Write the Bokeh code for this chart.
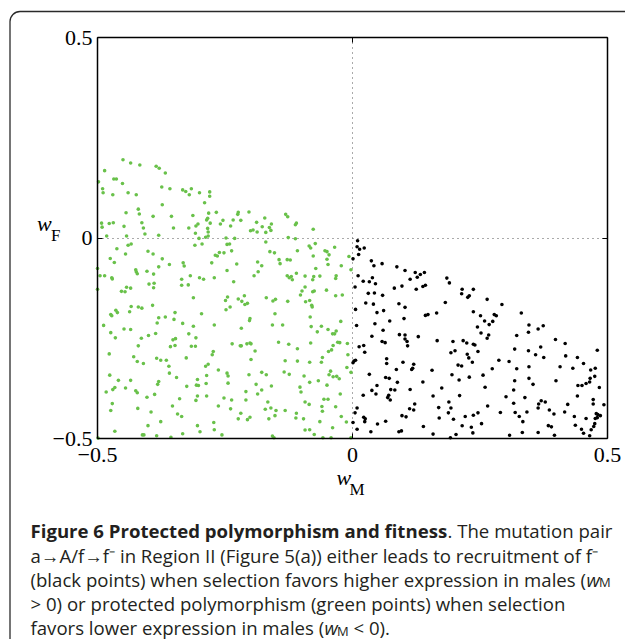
from bokeh.plotting import figure
from bokeh.models import (Range1d, FixedTicker, LinearAxis, CustomJSTickFormatter,
                          Label, BoxAnnotation, Grid)
from bokeh.embed import file_html
from bokeh.resources import INLINE

# ---------------- data ----------------
green_x = [-0.450,-0.435,-0.417,-0.385,-0.379,-0.486,-0.367,-0.498,-0.468,-0.463,-0.451,-0.490,-0.489,-0.470,-0.440,-0.424,-0.374,-0.358,-0.333,-0.327,-0.316,-0.320,-0.300,-0.280,-0.280,-0.373,-0.290,-0.420,-0.418,-0.444,-0.391,-0.355,-0.313,-0.282,-0.267,-0.492,-0.491,-0.477,-0.469,-0.413,-0.448,-0.410,-0.351,-0.321,-0.307,-0.303,-0.286,-0.284,-0.279,-0.254,-0.259,-0.284,-0.283,-0.283,-0.308,-0.482,-0.443,-0.407,-0.380,-0.301,-0.288,-0.440,-0.434,-0.462,-0.309,-0.295,-0.445,-0.401,-0.391,-0.373,-0.332,-0.330,-0.359,-0.276,-0.269,-0.265,-0.261,-0.252,-0.475,-0.467,-0.500,-0.425,-0.424,-0.422,-0.403,-0.390,-0.380,-0.495,-0.486,-0.472,-0.471,-0.335,-0.318,-0.300,-0.292,-0.271,-0.399,-0.389,-0.335,-0.322,-0.443,-0.435,-0.390,-0.453,-0.446,-0.500,
           -0.224,-0.225,-0.203,-0.131,-0.127,-0.234,-0.219,-0.239,-0.188,-0.172,-0.159,-0.177,-0.163,-0.160,-0.200,-0.195,-0.187,-0.170,-0.112,-0.110,-0.077,-0.248,-0.231,-0.126,-0.112,-0.170,-0.073,-0.246,-0.241,-0.237,-0.162,-0.153,-0.085,-0.082,-0.108,-0.054,-0.050,-0.035,-0.046,-0.077,-0.144,-0.128,-0.122,-0.142,-0.186,-0.178,-0.050,-0.048,-0.007,-0.022,-0.227,-0.246,-0.185,-0.072,-0.003,-0.110,-0.193,-0.128,-0.124,-0.120,-0.118,-0.093,-0.076,-0.078,-0.064,-0.032,-0.033,-0.233,-0.093,-0.099,-0.078,-0.075,-0.051,
           -0.312,-0.464,-0.461,-0.474,-0.472,-0.434,-0.420,-0.413,-0.392,-0.437,-0.348,-0.296,-0.380,-0.367,-0.350,-0.488,-0.448,-0.435,-0.383,-0.333,-0.312,-0.271,-0.474,-0.465,-0.414,-0.400,-0.386,-0.321,-0.307,-0.352,-0.347,-0.420,-0.357,-0.348,-0.316,-0.308,-0.273,-0.275,-0.477,-0.429,-0.384,-0.376,-0.365,-0.422,-0.410,-0.326,-0.360,-0.283,-0.288,-0.263,-0.359,-0.476,-0.345,-0.435,-0.459,-0.304,-0.286,-0.380,-0.382,-0.466,-0.470,-0.445,-0.325,-0.306,-0.302,-0.287,-0.483,-0.425,-0.422,-0.388,-0.403,-0.304,-0.286,-0.307,-0.339,-0.471,-0.353,-0.263,-0.474,-0.421,-0.395,-0.343,-0.335,-0.376,-0.272,-0.401,-0.304,-0.466,-0.412,-0.409,-0.384,-0.356,-0.333,-0.299,-0.271,-0.256,-0.499,
           -0.245,-0.212,-0.102,-0.033,-0.020,-0.249,-0.224,-0.217,-0.211,-0.206,-0.169,-0.156,-0.151,-0.127,-0.092,-0.084,-0.080,-0.079,-0.248,-0.240,-0.152,-0.083,-0.201,-0.202,-0.023,-0.157,-0.137,-0.081,-0.061,-0.048,-0.032,-0.069,-0.039,-0.035,-0.218,-0.236,-0.220,-0.218,-0.207,-0.201,-0.199,-0.145,-0.125,-0.082,-0.029,-0.025,-0.010,-0.038,-0.108,-0.041,-0.047,-0.191,-0.009,-0.059,-0.061,-0.084,-0.108,-0.132,-0.199,-0.003,-0.011,-0.043,-0.046,-0.038,-0.031,-0.026,-0.134,-0.124,-0.178,-0.169,-0.203,-0.246,-0.244,-0.095,-0.084,-0.067,-0.050,-0.244,-0.189,-0.159,-0.103,-0.101,-0.024,-0.186,-0.178,-0.209,-0.252,-0.237,-0.209,-0.056,-0.048,-0.166,-0.093,-0.085,-0.060,-0.033,-0.171,-0.160,-0.150,-0.132,-0.059,-0.239,-0.219,-0.110,-0.152,-0.111,-0.096,-0.164,-0.201,-0.206,-0.224,-0.022,-0.012,-0.064,-0.093,-0.084,-0.039,-0.075,-0.157,-0.154,-0.058,-0.042,-0.003]
green_y = [0.195,0.187,0.182,0.179,0.174,0.168,0.162,0.140,0.147,0.147,0.136,0.123,0.113,0.108,0.113,0.108,0.127,0.123,0.120,0.116,0.123,0.108,0.113,0.115,0.104,0.083,0.088,0.072,0.060,0.063,0.054,0.054,0.056,0.062,0.064,0.037,0.027,0.036,0.038,0.038,0.029,0.025,0.025,0.025,0.030,0.035,0.045,0.049,0.037,0.044,0.035,0.024,0.015,0.005,0.012,0.005,0.005,0.010,0.007,-0.001,0.002,-0.018,-0.015,-0.027,-0.018,-0.015,-0.040,-0.033,-0.040,-0.052,-0.062,-0.070,-0.066,-0.062,-0.043,-0.045,-0.036,-0.037,-0.051,-0.061,-0.076,-0.079,-0.084,-0.089,-0.083,-0.090,-0.072,-0.094,-0.094,-0.099,-0.102,-0.103,-0.094,-0.099,-0.103,-0.099,-0.115,-0.113,-0.118,-0.117,-0.123,-0.125,-0.124,-0.133,-0.134,-0.128,
           0.064,0.059,0.065,0.059,0.053,0.045,0.044,0.030,0.039,0.050,0.035,0.028,0.026,0.019,0.018,0.020,0.015,0.014,0.033,0.037,0.022,0.000,-0.001,0.001,-0.002,-0.010,-0.014,-0.016,-0.015,-0.032,-0.034,-0.037,-0.020,-0.025,-0.032,-0.032,-0.034,-0.023,-0.042,-0.045,-0.054,-0.054,-0.055,-0.064,-0.060,-0.069,-0.053,-0.066,-0.046,-0.069,-0.065,-0.081,-0.084,-0.076,-0.079,-0.088,-0.094,-0.094,-0.099,-0.096,-0.104,-0.095,-0.096,-0.104,-0.095,-0.094,-0.101,-0.109,-0.122,-0.132,-0.134,-0.132,-0.130,
           -0.149,-0.180,-0.186,-0.191,-0.194,-0.171,-0.172,-0.175,-0.168,-0.184,-0.186,-0.189,-0.199,-0.197,-0.203,-0.218,-0.227,-0.228,-0.212,-0.213,-0.220,-0.217,-0.236,-0.249,-0.250,-0.243,-0.238,-0.239,-0.249,-0.254,-0.251,-0.269,-0.271,-0.268,-0.270,-0.270,-0.283,-0.291,-0.289,-0.296,-0.300,-0.305,-0.305,-0.308,-0.313,-0.299,-0.320,-0.315,-0.320,-0.329,-0.337,-0.342,-0.348,-0.355,-0.355,-0.353,-0.343,-0.358,-0.365,-0.373,-0.378,-0.374,-0.370,-0.367,-0.368,-0.363,-0.384,-0.381,-0.386,-0.390,-0.397,-0.394,-0.394,-0.405,-0.401,-0.413,-0.419,-0.419,-0.430,-0.425,-0.434,-0.439,-0.445,-0.458,-0.460,-0.468,-0.468,-0.482,-0.491,-0.491,-0.493,-0.497,-0.488,-0.483,-0.478,-0.491,-0.499,
           -0.147,-0.144,-0.142,-0.144,-0.142,-0.156,-0.152,-0.158,-0.166,-0.163,-0.149,-0.157,-0.153,-0.158,-0.159,-0.156,-0.168,-0.172,-0.179,-0.172,-0.189,-0.197,-0.201,-0.206,-0.208,-0.217,-0.217,-0.221,-0.220,-0.228,-0.232,-0.234,-0.239,-0.239,-0.225,-0.264,-0.269,-0.269,-0.264,-0.262,-0.264,-0.260,-0.265,-0.262,-0.260,-0.261,-0.263,-0.268,-0.276,-0.279,-0.283,-0.282,-0.291,-0.298,-0.310,-0.310,-0.307,-0.306,-0.303,-0.335,-0.323,-0.332,-0.341,-0.346,-0.345,-0.351,-0.334,-0.340,-0.335,-0.341,-0.341,-0.337,-0.344,-0.344,-0.360,-0.356,-0.367,-0.362,-0.365,-0.369,-0.372,-0.384,-0.389,-0.389,-0.379,-0.383,-0.399,-0.404,-0.404,-0.402,-0.402,-0.409,-0.409,-0.415,-0.420,-0.421,-0.427,-0.424,-0.430,-0.430,-0.432,-0.426,-0.437,-0.437,-0.443,-0.449,-0.451,-0.451,-0.447,-0.453,-0.451,-0.445,-0.459,-0.458,-0.479,-0.478,-0.473,-0.490,-0.494,-0.498,-0.498,-0.498,-0.498]

black_x = [0.010,0.009,0.014,0.023,0.012,0.001,0.037,0.042,0.058,0.087,0.103,0.011,0.039,0.021,0.033,0.045,0.005,0.082,0.097,0.113,0.123,0.127,0.133,0.141,0.138,0.143,0.125,0.185,0.190,0.031,0.043,0.059,0.026,0.041,0.091,0.103,0.182,0.215,0.214,0.226,0.229,0.237,0.006,0.048,0.061,0.143,0.148,0.165,0.237,0.008,0.044,0.073,0.101,0.060,0.245,0.038,0.092,0.103,0.129,
           0.264,0.293,0.251,0.278,0.282,0.331,0.259,0.268,0.275,0.252,0.267,0.322,0.346,0.345,0.364,0.374,
           0.058,0.064,0.103,0.107,0.108,0.166,0.197,0.217,0.224,0.237,0.240,0.013,0.022,0.024,0.193,0.201,0.225,0.228,0.235,0.246,0.006,0.003,0.001,0.067,0.067,0.099,0.120,0.118,0.116,0.086,0.156,0.207,0.214,0.033,0.065,0.072,0.088,0.138,0.195,0.209,0.229,0.048,0.038,0.046,0.075,0.083,0.113,0.175,0.071,0.069,0.074,0.021,0.158,0.210,0.189,0.122,0.112,0.120,0.169,0.193,0.009,0.005,0.188,0.246,0.237,0.221,0.198,0.170,0.097,0.105,0.022,0.025,0.024,0.049,0.065,0.001,0.009,0.139,0.215,0.233,0.036,0.091,0.096,0.236,0.158,0.203,0.192,
           0.264,0.398,0.417,0.318,0.345,0.369,0.359,0.375,0.418,0.441,0.480,0.287,0.307,0.453,0.476,0.467,0.274,0.322,0.346,0.407,0.432,0.256,0.318,0.346,0.354,0.399,0.442,0.450,0.458,0.465,0.475,0.466,0.484,0.260,0.316,0.301,0.338,0.441,0.370,0.378,0.365,0.364,0.386,0.395,0.316,0.265,0.472,0.472,0.493,0.422,0.319,0.342,0.327,0.290,0.416,0.435,0.458,0.478,0.480,0.481,0.486,0.476,0.334,0.253,0.384,0.390,0.437,0.475,0.473,0.449,0.468,0.453,0.308,0.333,0.364,0.396,0.465]
black_y = [-0.007,-0.022,-0.028,-0.025,-0.041,-0.052,-0.057,-0.069,-0.064,-0.072,-0.081,-0.094,-0.099,-0.108,-0.109,-0.114,-0.122,-0.125,-0.120,-0.103,-0.086,-0.098,-0.091,-0.086,-0.121,-0.118,-0.128,-0.100,-0.112,-0.138,-0.137,-0.143,-0.162,-0.165,-0.164,-0.173,-0.161,-0.128,-0.139,-0.148,-0.144,-0.128,-0.178,-0.186,-0.181,-0.193,-0.191,-0.187,-0.184,-0.218,-0.214,-0.207,-0.201,-0.230,-0.222,-0.245,-0.241,-0.242,-0.246,
           -0.153,-0.166,-0.194,-0.191,-0.194,-0.187,-0.207,-0.216,-0.208,-0.237,-0.242,-0.243,-0.217,-0.235,-0.227,-0.219,
           -0.258,-0.261,-0.252,-0.258,-0.269,-0.256,-0.258,-0.256,-0.262,-0.265,-0.267,-0.271,-0.268,-0.285,-0.286,-0.281,-0.290,-0.299,-0.310,-0.283,-0.305,-0.307,-0.311,-0.301,-0.313,-0.310,-0.315,-0.325,-0.328,-0.328,-0.330,-0.317,-0.319,-0.340,-0.348,-0.350,-0.360,-0.359,-0.341,-0.354,-0.347,-0.368,-0.380,-0.389,-0.378,-0.379,-0.378,-0.374,-0.392,-0.398,-0.404,-0.392,-0.394,-0.393,-0.409,-0.414,-0.426,-0.429,-0.423,-0.424,-0.424,-0.436,-0.436,-0.436,-0.442,-0.445,-0.452,-0.449,-0.443,-0.446,-0.447,-0.451,-0.458,-0.464,-0.457,-0.460,-0.477,-0.470,-0.468,-0.472,-0.483,-0.483,-0.481,-0.486,-0.489,-0.490,-0.498,
           -0.250,-0.253,-0.263,-0.277,-0.281,-0.272,-0.291,-0.298,-0.294,-0.298,-0.280,-0.305,-0.308,-0.313,-0.325,-0.329,-0.326,-0.326,-0.321,-0.321,-0.325,-0.342,-0.356,-0.350,-0.365,-0.356,-0.368,-0.368,-0.363,-0.359,-0.345,-0.350,-0.373,-0.372,-0.379,-0.396,-0.398,-0.394,-0.406,-0.409,-0.414,-0.424,-0.429,-0.439,-0.412,-0.419,-0.403,-0.414,-0.416,-0.415,-0.435,-0.434,-0.445,-0.435,-0.434,-0.445,-0.450,-0.438,-0.448,-0.440,-0.443,-0.450,-0.458,-0.463,-0.468,-0.471,-0.467,-0.463,-0.470,-0.477,-0.478,-0.487,-0.492,-0.485,-0.485,-0.492,-0.493]

x_ticks = [-0.5, 0, 0.5]
y_ticks = [-0.5, 0, 0.5]
lim = (-0.5, 0.5)

caption_bold = "Figure 6 Protected polymorphism and fitness"
caption_lines = [
    ". The mutation pair",
    "a\u2192A/f\u2192f\u207b in Region II (Figure 5(a)) either leads to recruitment of f\u207b",
    "(black points) when selection favors higher expression in males (",
    "> 0) or protected polymorphism (green points) when selection",
    "favors lower expression in males (",
]

# ---------------- layout geometry (canvas px) ----------------
W, H = 625, 639
FL, FT, FW, FH = 97, 37, 510, 401   # where the plot box [-0.5,0.5]^2 sits

def px2x(px):
    return lim[0] + (px - FL) / FW * (lim[1] - lim[0])

def py2y(py):
    return lim[1] - (py - FT) / FH * (lim[1] - lim[0])

# the frame covers the whole canvas; the axes are pinned to the plot box
p = figure(width=W, height=H,
           x_range=Range1d(px2x(0), px2x(W)), y_range=Range1d(py2y(H), py2y(0)),
           output_backend="svg", toolbar_location=None,
           x_axis_location=None, y_axis_location=None,
           min_border=0, min_border_left=0, min_border_right=0,
           min_border_top=0, min_border_bottom=0,
           background_fill_color="white", border_fill_color="white")
p.outline_line_color = None
p.xgrid.visible = False
p.ygrid.visible = False

fmt = CustomJSTickFormatter(code="return tick < 0 ? '\u2212' + String(-tick) : String(tick);")
blank = CustomJSTickFormatter(code="return '';")

def make_axis(where, at, ticks, labelled):
    a = LinearAxis(fixed_location=at, bounds=lim, ticker=FixedTicker(ticks=ticks),
                   formatter=fmt if labelled else blank,
                   major_tick_in=5, major_tick_out=0, major_tick_line_width=1,
                   minor_tick_line_color=None,
                   axis_line_color="black", axis_line_width=1.5,
                   major_label_text_font="Liberation Serif",
                   major_label_text_font_size="22px" if labelled else "1px",
                   major_label_text_color="black",
                   major_label_standoff=(9 if where == "below" else 5) if labelled else 0)
    p.add_layout(a, where)

make_axis("left", lim[0], y_ticks, True)
make_axis("below", lim[0], x_ticks, True)
make_axis("right", lim[1], y_ticks, False)
make_axis("above", lim[1], x_ticks, False)

# dotted zero lines
for dim in (0, 1):
    g = Grid(dimension=dim, ticker=FixedTicker(ticks=[0]), bounds=lim,
             grid_line_color="#555555", grid_line_dash="1 4", grid_line_width=1)
    if "cross_bounds" in g.properties():
        g.cross_bounds = lim
    p.add_layout(g)

p.scatter(green_x, green_y, size=3.6, fill_color="#69c14a", line_color=None)
p.scatter(black_x, black_y, size=3.6, fill_color="black", line_color=None)

# outer rounded frame of the figure panel
p.add_layout(BoxAnnotation(left=px2x(9.5), right=px2x(900), top=py2y(11), bottom=py2y(900),
                           fill_alpha=0, line_color="#2a2a2a", line_alpha=1.0,
                           line_width=1.3, border_radius=10))

def lab(text, px, py, size, font="Liberation Serif", style="normal", color="black"):
    p.add_layout(Label(x=px2x(px), y=py2y(py), text=text, text_font=font,
                       text_font_size=size, text_font_style=style, text_color=color,
                       text_align="left", text_baseline="alphabetic"))

# axis labels
lab("w", 36.5, 223, "22px", style="italic")
lab("F", 50.5, 235, "17px")
lab("w", 336, 477, "22px", style="italic")
lab("M", 349, 489, "17px")

# caption
CF, CS, CC = "Open Sans", "18.6px", "#231f20"
base = [530, 554.5, 578.5, 603, 627]
lab(caption_bold, 30, base[0], CS, CF, "bold", CC)
lab(caption_lines[0], 447, base[0], CS, CF, "normal", CC)
lab(caption_lines[1], 30, base[1], CS, CF, "normal", CC)
lab(caption_lines[2], 30, base[2], CS, CF, "normal", CC)
lab("w", 586, base[2], CS, CF, "italic", CC)
lab("M", 598.5, base[2] + 3, "13px", CF, "normal", CC)
lab(caption_lines[3], 30, base[3], CS, CF, "normal", CC)
lab(caption_lines[4], 30, base[4], CS, CF, "normal", CC)
lab("w", 324, base[4], CS, CF, "italic", CC)
lab("M", 336.5, base[4] + 3, "13px", CF, "normal", CC)
lab("< 0).", 353, base[4], CS, CF, "normal", CC)

open("out.html", "w").write(file_html(p, INLINE))
